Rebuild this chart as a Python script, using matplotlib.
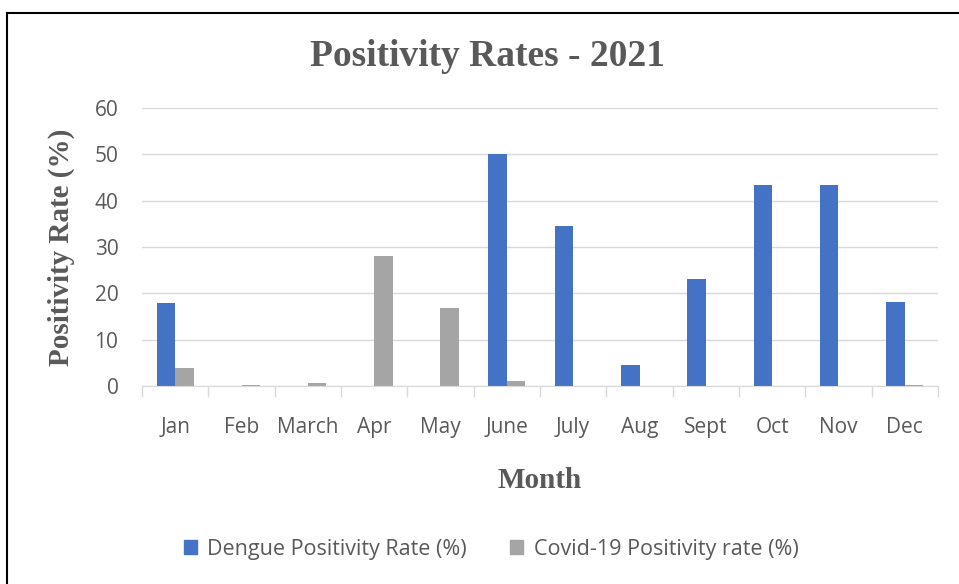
import numpy as np
import matplotlib
matplotlib.use("Agg")
import matplotlib.pyplot as plt
from matplotlib.lines import Line2D
from matplotlib.patches import Patch

# data
months = ["Jan", "Feb", "March", "Apr", "May", "June",
          "July", "Aug", "Sept", "Oct", "Nov", "Dec"]
dengue = [18.0, 0.0, 0.0, 0.0, 0.0, 50.0, 34.6, 4.6, 23.1, 43.4, 43.3, 18.2]
covid = [3.8, 0.2, 0.7, 28.0, 16.9, 1.0, 0.1, 0.0, 0.0, 0.0, 0.0, 0.2]

blue = "#4472c4"
grey = "#a5a5a5"
text_grey = "#595959"
serif = "Liberation Serif"
sans = "Open Sans"

fig = plt.figure(figsize=(9.59, 5.84), dpi=100)
ax = fig.add_axes([142 / 959, 1 - 386 / 584, (938 - 142) / 959, (386 - 108) / 584])

x = np.arange(len(months))
w = 0.28
ax.bar(x - w / 2, dengue, w, color=blue, label="Dengue Positivity Rate (%)")
ax.bar(x + w / 2, covid, w, color=grey, label="Covid-19 Positivity rate (%)")

ax.set_xlim(-0.5, len(months) - 0.5)
ax.set_ylim(0, 60)
ax.set_yticks(range(0, 61, 10))
ax.yaxis.grid(True, color="#d9d9d9", linewidth=1)
ax.set_axisbelow(True)
for s in ["top", "right", "left"]:
    ax.spines[s].set_visible(False)
ax.spines["bottom"].set_color("#d9d9d9")
ax.tick_params(axis="y", length=0, pad=17, labelsize=15, labelcolor=text_grey)

ax.set_xticks(x)
ax.set_xticklabels(months, fontsize=15, color=text_grey, family=sans)
ax.tick_params(axis="x", length=0, pad=22)
ax.set_xticks(np.arange(-0.5, len(months), 1), minor=True)
ax.tick_params(axis="x", which="minor", length=8, color="#d9d9d9", width=1)
for lab in ax.get_yticklabels():
    lab.set_family(sans)

ax.set_xlabel("Month", family=serif, fontweight="bold", fontsize=21,
              color=text_grey, labelpad=21)
ax.set_ylabel("Positivity Rate (%)", family=serif, fontweight="bold",
              fontsize=21, color=text_grey, labelpad=14)
fig.text(0.508, 1 - 57 / 584, "Positivity Rates - 2021", family=serif,
         fontweight="bold", fontsize=27, color=text_grey, ha="center", va="center")

handles = [Patch(color=blue), Patch(color=grey)]
fig.legend(handles, ["Dengue Positivity Rate (%)", "Covid-19 Positivity rate (%)"],
           loc="center", bbox_to_anchor=(0.512, 1 - 549 / 584), ncol=2, frameon=False,
           prop={"family": sans, "size": 15.5}, labelcolor=text_grey,
           handlelength=0.6, handleheight=0.6, columnspacing=2.0, handletextpad=0.5)

# outer frame (only top and left are visible in the reference)
fig.add_artist(Line2D([6.5 / 959, 6.5 / 959], [0, 1 - 12.5 / 584], color="black",
                      linewidth=1.5, transform=fig.transFigure))
fig.add_artist(Line2D([6.5 / 959, 1], [1 - 12.5 / 584, 1 - 12.5 / 584], color="black",
                      linewidth=1.5, transform=fig.transFigure))

fig.savefig("out.png", dpi=100)
